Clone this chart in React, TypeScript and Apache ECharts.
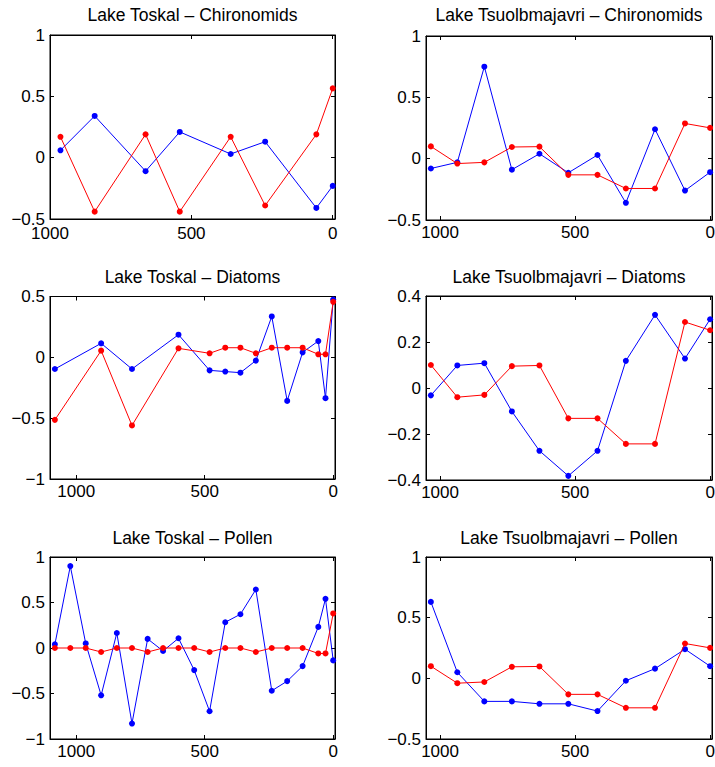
import React, { useEffect, useRef } from "react";
import * as echarts from "echarts";

// Ages (years BP)
const toskalAges = [1083, 1023, 963, 903, 842, 783, 722, 662, 602, 541, 481, 420, 361, 301, 239, 179, 119, 58, 30, 0];
const toskalChiroAges = [963, 842, 662, 541, 361, 239, 58, 0];
const toskalDiatomAges = [1083, 903, 783, 602, 481, 420, 361, 301, 239, 179, 119, 58, 30, 0];
const tsuolAges = [1034, 936, 836, 734, 632, 525, 417, 312, 204, 93, 0];

// Lake Toskal – Chironomids
const toskalChiroBlue = [0.06, 0.34, -0.11, 0.21, 0.03, 0.13, -0.41, -0.23];
const toskalChiroRed = [0.17, -0.44, 0.19, -0.44, 0.17, -0.39, 0.19, 0.565];

// Lake Toskal – Diatoms
const toskalDiatomBlue = [-0.096, 0.115, -0.096, 0.186, -0.107, -0.117, -0.126, -0.027, 0.336, -0.358, 0.041, 0.134, -0.336, 0.475];
const toskalDiatomRed = [-0.514, 0.055, -0.56, 0.074, 0.033, 0.079, 0.079, 0.033, 0.079, 0.079, 0.079, 0.025, 0.025, 0.456];

// Lake Toskal – Pollen
const toskalPollenBlue = [0.04, 0.9, 0.05, -0.52, 0.165, -0.83, 0.1, -0.033, 0.107, -0.243, -0.695, 0.283, 0.371, 0.643, -0.47, -0.364, -0.199, 0.232, 0.54, -0.136];
const toskalPollenRed = [0, 0, 0, -0.044, 0, 0, -0.044, 0, 0, 0, -0.044, 0, 0, -0.044, 0, 0, 0, -0.06, -0.06, 0.38];

// Lake Tsuolbmajavri (red reference series shared by all three proxies)
const tsuolRed = [0.1, -0.04, -0.03, 0.095, 0.098, -0.132, -0.132, -0.243, -0.243, 0.287, 0.251];
const tsuolChiroBlue = [-0.08, -0.03, 0.75, -0.09, 0.04, -0.115, 0.03, -0.36, 0.24, -0.26, -0.11];
const tsuolDiatomBlue = [-0.032, 0.098, 0.108, -0.102, -0.273, -0.382, -0.273, 0.118, 0.318, 0.128, 0.299];
const tsuolPollenBlue = [0.63, 0.05, -0.19, -0.19, -0.21, -0.21, -0.27, -0.02, 0.08, 0.24, 0.1];

const titles = [
  "Lake Toskal – Chironomids",
  "Lake Tsuolbmajavri – Chironomids",
  "Lake Toskal – Diatoms",
  "Lake Tsuolbmajavri – Diatoms",
  "Lake Toskal – Pollen",
  "Lake Tsuolbmajavri – Pollen",
];

const xTicks = [0, 500, 1000];

const FONT = "'Liberation Sans', Arial, Helvetica, sans-serif";

const zip = (xs: number[], ys: number[]) => xs.map((x, i) => [x, ys[i]]);

export default function App() {
  const ref = useRef<HTMLDivElement>(null);
  useEffect(() => {
    if (!ref.current) return;
    const chart = echarts.init(ref.current, undefined, { renderer: "svg" });

    const panels = [
      { box: [50, 35, 285, 184], x: [-8, 1000], y: [-0.5, 1, 0.5], titleY: 15, xMargin: 8.5, blue: zip(toskalChiroAges, toskalChiroBlue), red: zip(toskalChiroAges, toskalChiroRed) },
      { box: [426, 36, 286, 184], x: [-7, 1052], y: [-0.5, 1, 0.5], titleY: 15, xMargin: 6, blue: zip(tsuolAges, tsuolChiroBlue), red: zip(tsuolAges, tsuolRed) },
      { box: [50, 296.5, 285, 182.5], x: [-7, 1102], y: [-1, 0.5, 0.5], titleY: 276.5, xMargin: 6, blue: zip(toskalDiatomAges, toskalDiatomBlue), red: zip(toskalDiatomAges, toskalDiatomRed) },
      { box: [426, 296, 286, 184], x: [-7, 1052], y: [-0.4, 0.4, 0.2], titleY: 277, xMargin: 6, blue: zip(tsuolAges, tsuolDiatomBlue), red: zip(tsuolAges, tsuolRed) },
      { box: [50, 557, 285, 182], x: [-7, 1102], y: [-1, 1, 0.5], titleY: 537.5, xMargin: 6, blue: zip(toskalAges, toskalPollenBlue), red: zip(toskalAges, toskalPollenRed) },
      { box: [426, 557, 286, 182], x: [-7, 1052], y: [-0.5, 1, 0.5], titleY: 537.5, xMargin: 6, blue: zip(tsuolAges, tsuolPollenBlue), red: zip(tsuolAges, tsuolRed) },
    ];

    const fmtY = (v: number) => {
      const r = parseFloat(v.toFixed(3));
      if (r === 0) return "0";
      return (r < 0 ? "\u2212" : "") + String(Math.abs(r));
    };
    const fmtX = (v: number) => String(Math.round(v));

    const grid: any[] = [];
    const xAxis: any[] = [];
    const yAxis: any[] = [];
    const series: any[] = [];
    const graphic: any[] = [];

    const mkLine = () => ({ show: true, onZero: false, lineStyle: { color: "#000", width: 1 } });
    const mkTick = () => ({ show: true, inside: true, length: 4, lineStyle: { color: "#000", width: 1 } });

    panels.forEach((p, i) => {
      const [left, top, width, height] = p.box;
      grid.push({
        left,
        top,
        width,
        height,
        containLabel: false,
        outerBoundsMode: "none",
        show: true,
        borderColor: "#000",
        borderWidth: 1,
        backgroundColor: "transparent",
      });
      xAxis.push({
        type: "value",
        gridIndex: i,
        min: p.x[0],
        max: p.x[1],
        inverse: true,
        position: "bottom",
        splitLine: { show: false },
        axisLine: mkLine(),
        axisTick: { ...mkTick(), customValues: xTicks },
        axisLabel: {
          show: true,
          customValues: xTicks,
          formatter: fmtX,
          color: "#000",
          fontSize: 17,
          lineHeight: 12,
          fontFamily: FONT,
          margin: p.xMargin,
          showMinLabel: true,
          showMaxLabel: true,
        },
      });
      xAxis.push({
        type: "value",
        gridIndex: i,
        min: p.x[0],
        max: p.x[1],
        inverse: true,
        position: "top",
        splitLine: { show: false },
        axisLine: mkLine(),
        axisTick: { ...mkTick(), customValues: xTicks },
        axisLabel: { show: false },
      });
      yAxis.push({
        type: "value",
        gridIndex: i,
        min: p.y[0],
        max: p.y[1],
        interval: p.y[2],
        position: "left",
        splitLine: { show: false },
        axisLine: mkLine(),
        axisTick: mkTick(),
        axisLabel: {
          show: true,
          color: "#000",
          fontSize: 17,
          lineHeight: 12,
          fontFamily: FONT,
          margin: 5,
          formatter: fmtY,
          showMinLabel: true,
          showMaxLabel: true,
        },
      });
      yAxis.push({
        type: "value",
        gridIndex: i,
        min: p.y[0],
        max: p.y[1],
        interval: p.y[2],
        position: "right",
        splitLine: { show: false },
        axisLine: mkLine(),
        axisTick: mkTick(),
        axisLabel: { show: false },
      });
      series.push({
        type: "line",
        xAxisIndex: 2 * i,
        yAxisIndex: 2 * i,
        data: p.blue,
        symbol: "circle",
        symbolSize: 6,
        showSymbol: true,
        lineStyle: { color: "#0000ff", width: 1 },
        itemStyle: { color: "#0000ff" },
        z: 2,
      });
      series.push({
        type: "line",
        xAxisIndex: 2 * i,
        yAxisIndex: 2 * i,
        data: p.red,
        symbol: "circle",
        symbolSize: 6,
        showSymbol: true,
        lineStyle: { color: "#ff0000", width: 1 },
        itemStyle: { color: "#ff0000" },
        z: 3,
      });
      // empty helper series so the secondary (top/right) axes render their ticks
      series.push({
        type: "line",
        xAxisIndex: 2 * i + 1,
        yAxisIndex: 2 * i + 1,
        data: [],
        silent: true,
        showSymbol: false,
      });
      graphic.push({
        type: "text",
        x: left + width / 2,
        y: p.titleY,
        style: {
          text: titles[i],
          fill: "#000",
          font: `17.5px ${FONT}`,
          textAlign: "center",
          textVerticalAlign: "middle",
        },
      });
    });

    chart.setOption({
      animation: false,
      backgroundColor: "#fff",
      grid,
      xAxis,
      yAxis,
      series,
      graphic,
    });

    return () => chart.dispose();
  }, []);

  return (
    <div
      ref={ref}
      style={{ position: "fixed", left: 0, top: 0, width: 715, height: 767, background: "#fff" }}
    />
  );
}
